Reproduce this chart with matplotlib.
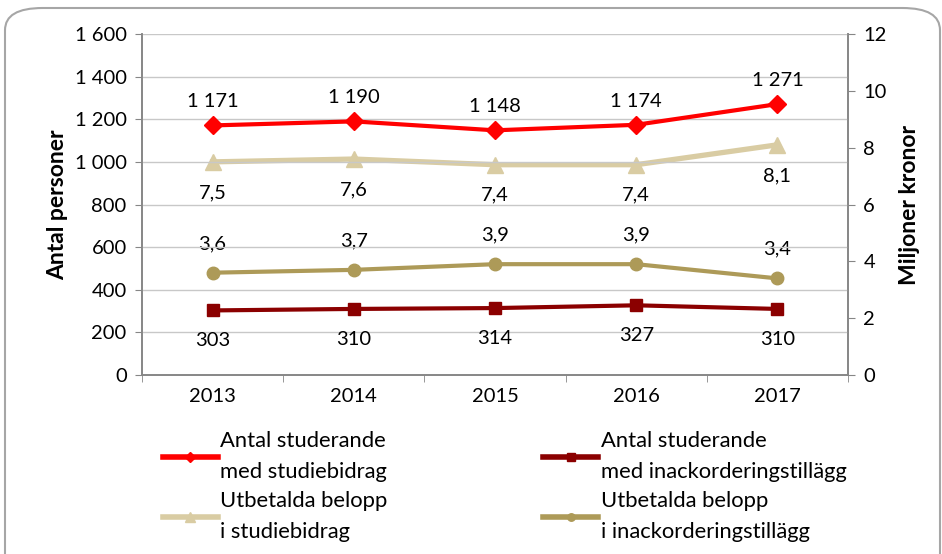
import matplotlib.pyplot as plt
from matplotlib.patches import FancyBboxPatch

# data
years = ["2013", "2014", "2015", "2016", "2017"]
antal_studiebidrag = [1171, 1190, 1148, 1174, 1271]
antal_inackordering = [303, 310, 314, 327, 310]
belopp_studiebidrag = [7.5, 7.6, 7.4, 7.4, 8.1]
belopp_inackordering = [3.6, 3.7, 3.9, 3.9, 3.4]

plt.rcParams['font.family'] = ['Lato', 'DejaVu Sans']

def fmt_int(v):
    return f"{v:,}".replace(",", " ")

def fmt_dec(v):
    return f"{v:.1f}".replace(".", ",")

fig = plt.figure(figsize=(9.42, 5.54), dpi=100)

# rounded frame, cut at the bottom like the original
frame = FancyBboxPatch((5 / 942, -0.2), 935 / 942, 1.2 - 8 / 554,
                       boxstyle="round,pad=0,rounding_size=0.04",
                       transform=fig.transFigure, fill=False,
                       edgecolor="#a6a6a6", linewidth=1.5)
fig.patches.append(frame)

# title above the picture, only its descenders are visible (as in the original)
fig.text(818 / 942, 1 + 6 / 554, "(antal personer och utbetalda belopp, miljoner kronor)",
         ha="right", va="baseline", fontsize=15, fontweight="bold")

ax = fig.add_axes([142 / 942, 1 - 375 / 554, 706 / 942, 341 / 554])
ax2 = ax.twinx()

x = list(range(len(years)))
fs = 14.5

l1, = ax.plot(x, antal_studiebidrag, color="#ff0000", lw=3, marker="D", ms=9, zorder=5)
l2, = ax.plot(x, antal_inackordering, color="#8b0000", lw=3, marker="s", ms=9, zorder=5)
l3, = ax2.plot(x, belopp_studiebidrag, color="#d9cca3", lw=3.8, marker="^", ms=12)
l4, = ax2.plot(x, belopp_inackordering, color="#ad9a58", lw=3, marker="o", ms=9)

for xi, v in zip(x, antal_studiebidrag):
    ax.annotate(fmt_int(v), (xi, v), xytext=(0, 17), textcoords="offset points",
                ha="center", va="center", fontsize=fs)
for xi, v in zip(x, antal_inackordering):
    ax.annotate(fmt_int(v), (xi, v), xytext=(0, -22), textcoords="offset points",
                ha="center", va="center", fontsize=fs)
for xi, v in zip(x, belopp_studiebidrag):
    ax2.annotate(fmt_dec(v), (xi, v), xytext=(0, -22), textcoords="offset points",
                 ha="center", va="center", fontsize=fs)
for xi, v in zip(x, belopp_inackordering):
    ax2.annotate(fmt_dec(v), (xi, v), xytext=(0, 21), textcoords="offset points",
                 ha="center", va="center", fontsize=fs)

ax.set_xlim(-0.5, len(years) - 0.5)
ax.set_ylim(0, 1600)
ax.set_yticks(range(0, 1601, 200))
ax.set_yticklabels([fmt_int(v) for v in range(0, 1601, 200)])
ax2.set_ylim(0, 12)
ax2.set_yticks(range(0, 13, 2))

ax.set_xticks(x)
ax.set_xticklabels(years)
ax.set_xticks([i - 0.5 for i in range(len(years) + 1)], minor=True)
ax.tick_params(axis="x", which="major", length=0, pad=9, labelsize=fs)
ax.tick_params(axis="x", which="minor", length=5, color="#868686")
ax.tick_params(axis="y", length=5, color="#868686", labelsize=fs, pad=6)
ax2.tick_params(axis="y", length=5, color="#868686", labelsize=fs, pad=6)

ax.grid(axis="y", color="#c8c8c8", lw=1)
ax.set_axisbelow(True)
for a in (ax, ax2):
    a.spines["top"].set_visible(False)
    for s in ("left", "right", "bottom"):
        a.spines[s].set_color("#868686")
        a.spines[s].set_linewidth(1.2)

ax.set_ylabel("Antal personer", fontsize=16.5, fontweight="bold", labelpad=5)
ax2.set_ylabel("Miljoner kronor", fontsize=16.5, fontweight="bold", labelpad=9)

ax.set_zorder(ax2.get_zorder() + 1)
ax.patch.set_visible(False)

# legend filled row by row like the original
leg = fig.legend([l1, l3, l2, l4],
                 ["Antal studerande\nmed studiebidrag", "Utbetalda belopp\ni studiebidrag",
                  "Antal studerande\nmed inackorderingstillägg", "Utbetalda belopp\ni inackorderingstillägg"],
                 ncol=2, loc="upper left", bbox_to_anchor=(143 / 942, 1 - 411 / 554),
                 frameon=False, fontsize=15.8, handlelength=2.5, handletextpad=0.12,
                 columnspacing=7.1, labelspacing=0.4, markerscale=0.6)
for t in leg.get_texts():
    t.set_linespacing(1.7)
for h in leg.legend_handles:
    h.set_linewidth(4)

fig.savefig("out.png", dpi=100)
